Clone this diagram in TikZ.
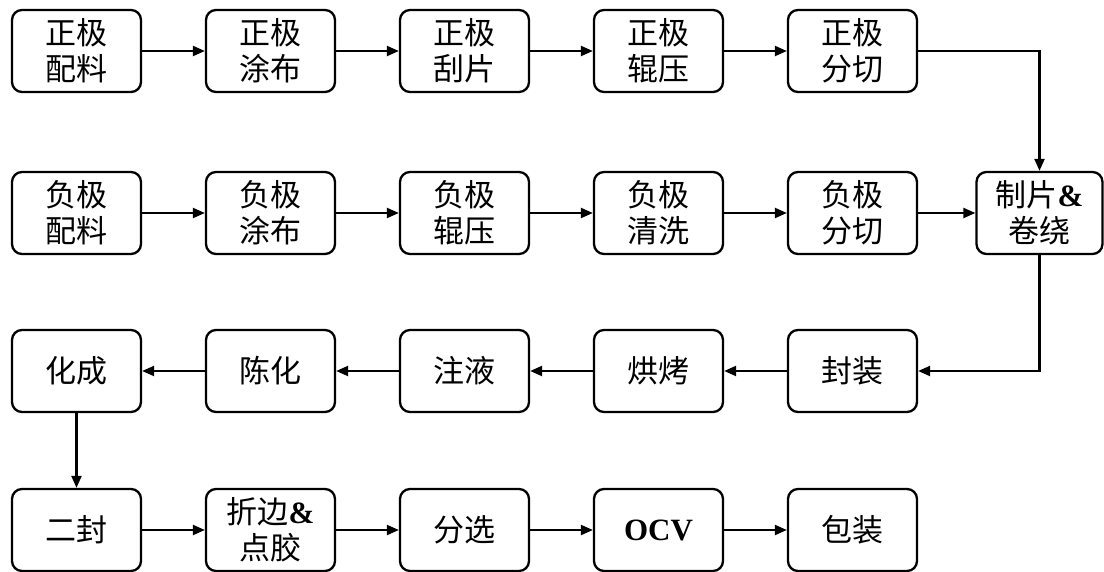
\documentclass[tikz,border=0pt]{standalone}
\usepackage{fontspec}
\setmainfont{Liberation Serif}
\newfontfamily\cjk{Noto Sans CJK SC}
\usetikzlibrary{arrows.meta}
\tikzset{
  box/.style={draw, line width=2.3pt, rounded corners=10pt, minimum width=129pt, minimum height=82pt,
    inner sep=0pt, align=center, font=\cjk\fontsize{31}{36}\selectfont},
  flow/.style={line width=2.2pt, -{Triangle[length=12pt,width=10pt]}}
}
\begin{document}
\begin{tikzpicture}[x=1pt,y=-1pt]
\useasboundingbox (0,0) rectangle (1104,572);
% row 1
\node[box] (p1) at (76.5,51) {正极\\配料};
\node[box] (p2) at (270.5,51) {正极\\涂布};
\node[box] (p3) at (464.5,51) {正极\\刮片};
\node[box] (p4) at (658.5,51) {正极\\辊压};
\node[box] (p5) at (852.5,51) {正极\\分切};
% row 2
\node[box] (n1) at (76.5,213) {负极\\配料};
\node[box] (n2) at (270.5,213) {负极\\涂布};
\node[box] (n3) at (464.5,213) {负极\\辊压};
\node[box] (n4) at (658.5,213) {负极\\清洗};
\node[box] (n5) at (852.5,213) {负极\\分切};
\node[box, minimum width=126pt] (w) at (1039.5,213) {制片{\rmfamily\bfseries\&}\\卷绕};
% row 3
\node[box] (r5) at (852.5,371) {封装};
\node[box] (r4) at (658.5,371) {烘烤};
\node[box] (r3) at (464.5,371) {注液};
\node[box] (r2) at (270.5,371) {陈化};
\node[box] (r1) at (76.5,371) {化成};
% row 4
\node[box] (s1) at (76.5,530) {二封};
\node[box] (s2) at (270.5,530) {折边{\rmfamily\bfseries\&}\\点胶};
\node[box] (s3) at (464.5,530) {分选};
\node[box] (s4) at (658.5,530) {\rmfamily\bfseries OCV};
\node[box] (s5) at (852.5,530) {包装};
% connectors
\draw[flow] (p1) -- (p2);
\draw[flow] (p2) -- (p3);
\draw[flow] (p3) -- (p4);
\draw[flow] (p4) -- (p5);
\draw[flow] (p5.east) -| (w.north);
\draw[flow] (n1) -- (n2);
\draw[flow] (n2) -- (n3);
\draw[flow] (n3) -- (n4);
\draw[flow] (n4) -- (n5);
\draw[flow] (n5) -- (w);
\draw[flow] (w.south) |- (r5.east);
\draw[flow] (r5) -- (r4);
\draw[flow] (r4) -- (r3);
\draw[flow] (r3) -- (r2);
\draw[flow] (r2) -- (r1);
\draw[flow] (r1) -- (s1);
\draw[flow] (s1) -- (s2);
\draw[flow] (s2) -- (s3);
\draw[flow] (s3) -- (s4);
\draw[flow] (s4) -- (s5);
\end{tikzpicture}
\end{document}
